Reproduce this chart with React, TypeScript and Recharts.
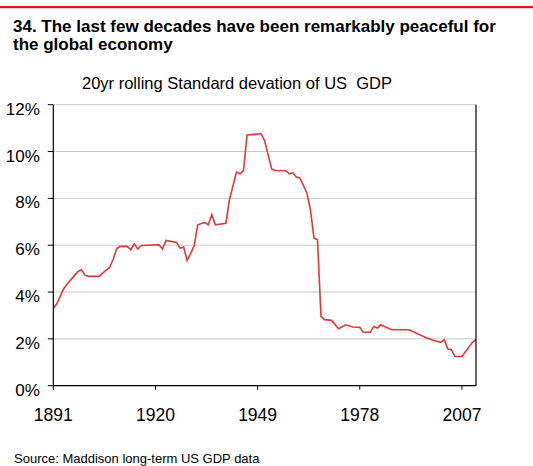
import React from 'react';
import { LineChart, Line, XAxis, YAxis, CartesianGrid } from 'recharts';

const years = [
  1891, 1892, 1894, 1895, 1897, 1898, 1899, 1900, 1901, 1904, 1905, 1907, 1908, 1909, 1910,
  1912, 1913, 1914, 1915, 1916, 1921, 1922, 1923, 1926, 1927, 1928, 1929, 1930, 1931, 1932,
  1934, 1935, 1936, 1937, 1940, 1941, 1943, 1944, 1945, 1946, 1950, 1951, 1953, 1954, 1957,
  1958, 1959, 1960, 1961, 1963, 1964, 1965, 1966, 1967, 1968, 1970, 1972, 1974, 1976, 1978,
  1979, 1981, 1982, 1983, 1984, 1987, 1992, 1997, 1999, 2001, 2002, 2003, 2004, 2005, 2007,
  2010, 2011,
];
const stdDev = [
  3.3, 3.5, 4.15, 4.35, 4.7, 4.88, 4.95, 4.72, 4.67, 4.67, 4.81, 5.05, 5.4, 5.85, 5.95,
  5.95, 5.81, 6.05, 5.84, 5.99, 6.02, 5.84, 6.2, 6.12, 5.87, 5.92, 5.35, 5.65, 5.98, 6.87,
  6.97, 6.87, 7.3, 6.87, 6.94, 7.94, 9.12, 9.05, 9.19, 10.71, 10.76, 10.46, 9.25, 9.19, 9.18,
  9.05, 9.09, 8.91, 8.87, 8.23, 7.51, 6.31, 6.23, 2.96, 2.82, 2.79, 2.43, 2.6, 2.51, 2.49,
  2.28, 2.28, 2.53, 2.46, 2.6, 2.39, 2.39, 2.04, 1.93, 1.85, 1.96, 1.57, 1.54, 1.25, 1.25,
  1.85, 1.96,
];
const xTicks = [1891, 1920, 1949, 1978, 2007];
const yTicks = [0, 2, 4, 6, 8, 10, 12];

const titleLines = ['34. The last few decades have been remarkably peaceful for', 'the global economy'];
const subtitle = '20yr rolling Standard devation of US  GDP';
const source = 'Source: Maddison long-term US GDP data';

const data = years.map((year, i) => ({ year, value: stdDev[i] }));

const FONT = '"Liberation Sans", Arial, Helvetica, sans-serif';

const LeftTick = (props: any) => {
  const { x, y, payload } = props;
  return (
    <text x={x} y={y} dy={10} textAnchor="end" fontSize={17} fontFamily={FONT} fill="#000">
      {payload.value}%
    </text>
  );
};

const RightTick = (props: any) => {
  const { x, y, payload } = props;
  return (
    <text x={x + 37} y={y} dy={10} textAnchor="end" fontSize={17} fontFamily={FONT} fill="#000">
      {payload.value}%
    </text>
  );
};

const BottomTick = (props: any) => {
  const { x, y, payload } = props;
  return (
    <text x={x} y={y} dy={29.3} textAnchor="middle" fontSize={17.5} fontFamily={FONT} fill="#000">
      {payload.value}
    </text>
  );
};

export default function App() {
  return (
    <div style={{ position: 'absolute', left: 0, top: 0, width: 533, height: 466, background: '#fff' }}>
      <LineChart
        width={533}
        height={466}
        data={data}
        margin={{ top: 104.7, left: 8.3, right: 12, bottom: 40.3 }}
      >
        <CartesianGrid yAxisId="left" vertical={false} stroke="#c8c8c8" strokeWidth={1} />
        <XAxis
          dataKey="year"
          type="number"
          domain={[1891, 2011]}
          ticks={xTicks}
          height={40}
          tickSize={4}
          tickMargin={2}
          tick={<BottomTick />}
          axisLine={{ stroke: '#000', strokeWidth: 1.2 }}
          tickLine={{ stroke: '#000', strokeWidth: 1 }}
          allowDataOverflow
        />
        <YAxis
          yAxisId="left"
          orientation="left"
          domain={[0, 12]}
          ticks={yTicks}
          width={45}
          tickSize={5.5}
          tickMargin={8}
          tick={<LeftTick />}
          axisLine={{ stroke: '#000', strokeWidth: 1.2 }}
          tickLine={{ stroke: '#000', strokeWidth: 1 }}
        />
        <YAxis
          yAxisId="right"
          orientation="right"
          domain={[0, 12]}
          ticks={yTicks}
          width={45}
          tickSize={7}
          tickMargin={2}
          tick={<RightTick />}
          axisLine={{ stroke: '#000', strokeWidth: 1.2 }}
          tickLine={{ stroke: '#000', strokeWidth: 1 }}
        />
        <Line
          yAxisId="left"
          type="linear"
          dataKey="value"
          stroke="#e2373c"
          strokeWidth={1.6}
          dot={false}
          activeDot={false}
          isAnimationActive={false}
        />
      </LineChart>
      <svg
        width={533}
        height={466}
        style={{ position: 'absolute', left: 0, top: 0, pointerEvents: 'none' }}
      >
        <rect x={0} y={6} width={533} height={2.2} fill="#e8101a" />
        <text x={13} y={31.7} fontSize={17} fontWeight="bold" fontFamily={FONT} fill="#000">
          {titleLines[0]}
        </text>
        <text x={13} y={50} fontSize={17} fontWeight="bold" fontFamily={FONT} fill="#000">
          {titleLines[1]}
        </text>
        <text x={82} y={89} fontSize={16.5} fontFamily={FONT} fill="#000" style={{ whiteSpace: 'pre' }}>
          {subtitle}
        </text>
        <text x={14} y={462.5} fontSize={13} fontFamily={FONT} fill="#000">
          {source}
        </text>
      </svg>
    </div>
  );
}
